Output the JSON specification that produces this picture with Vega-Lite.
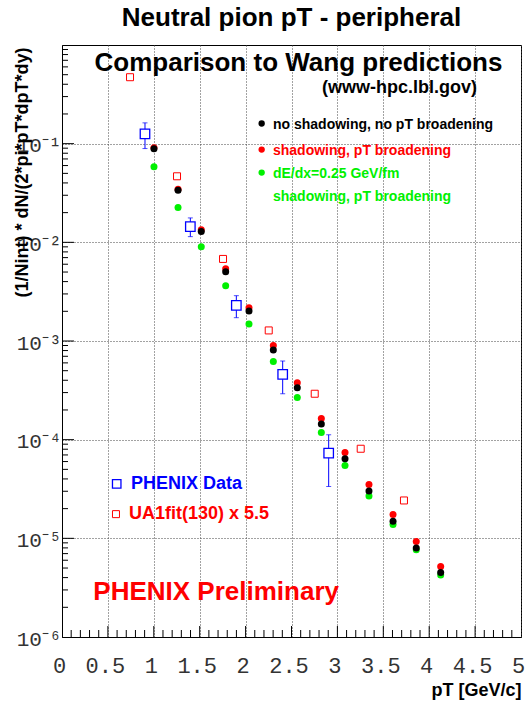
{
  "$schema": "https://vega.github.io/schema/vega-lite/v6.json",
  "width": 459,
  "height": 592,
  "autosize": {"type": "none"},
  "padding": {"left": 62, "top": 45, "right": 5, "bottom": 65},
  "background": "white",
  "config": {"view": {"stroke": "black", "strokeWidth": 1}, "font": "Liberation Sans"},
  "title": {"text": "Neutral pion pT - peripheral", "font": "Liberation Sans", "fontSize": 26, "fontWeight": "bold", "color": "black", "anchor": "middle", "frame": "group", "offset": -7, "baseline": "alphabetic"},
  "datasets": {
    "model": [
      {"pT": 1.002, "y": 0.0907, "model": "shadow"},
      {"pT": 1.264, "y": 0.0346, "model": "shadow"},
      {"pT": 1.517, "y": 0.01345, "model": "shadow"},
      {"pT": 1.783, "y": 0.00541, "model": "shadow"},
      {"pT": 2.037, "y": 0.002176, "model": "shadow"},
      {"pT": 2.302, "y": 0.000902, "model": "shadow"},
      {"pT": 2.563, "y": 0.000378, "model": "shadow"},
      {"pT": 2.825, "y": 0.000164, "model": "shadow"},
      {"pT": 3.083, "y": 0.0000742, "model": "shadow"},
      {"pT": 3.344, "y": 0.0000351, "model": "shadow"},
      {"pT": 3.606, "y": 0.00001743, "model": "shadow"},
      {"pT": 3.859, "y": 0.00000928, "model": "shadow"},
      {"pT": 4.125, "y": 0.00000518, "model": "shadow"},
      {"pT": 1.002, "y": 0.0582, "model": "dedx"},
      {"pT": 1.264, "y": 0.02248, "model": "dedx"},
      {"pT": 1.517, "y": 0.00904, "model": "dedx"},
      {"pT": 1.783, "y": 0.00364, "model": "dedx"},
      {"pT": 2.037, "y": 0.001487, "model": "dedx"},
      {"pT": 2.302, "y": 0.000621, "model": "dedx"},
      {"pT": 2.563, "y": 0.000268, "model": "dedx"},
      {"pT": 2.825, "y": 0.000118, "model": "dedx"},
      {"pT": 3.083, "y": 0.0000547, "model": "dedx"},
      {"pT": 3.344, "y": 0.0000268, "model": "dedx"},
      {"pT": 3.606, "y": 0.0000138, "model": "dedx"},
      {"pT": 3.859, "y": 0.00000764, "model": "dedx"},
      {"pT": 4.125, "y": 0.00000426, "model": "dedx"},
      {"pT": 1.002, "y": 0.0886, "model": "none"},
      {"pT": 1.264, "y": 0.0337, "model": "none"},
      {"pT": 1.517, "y": 0.01284, "model": "none"},
      {"pT": 1.783, "y": 0.00504, "model": "none"},
      {"pT": 2.037, "y": 0.002015, "model": "none"},
      {"pT": 2.302, "y": 0.00081, "model": "none"},
      {"pT": 2.563, "y": 0.000336, "model": "none"},
      {"pT": 2.825, "y": 0.000144, "model": "none"},
      {"pT": 3.083, "y": 0.000064, "model": "none"},
      {"pT": 3.344, "y": 0.0000301, "model": "none"},
      {"pT": 3.606, "y": 0.00001494, "model": "none"},
      {"pT": 3.859, "y": 0.00000796, "model": "none"},
      {"pT": 4.125, "y": 0.0000045, "model": "none"}
    ],
    "phenix": [
      {"pT": 0.904, "y": 0.1257, "lo": 0.0892, "hi": 0.1625},
      {"pT": 1.398, "y": 0.01443, "lo": 0.01142, "hi": 0.01768},
      {"pT": 1.899, "y": 0.002296, "lo": 0.001723, "hi": 0.00288},
      {"pT": 2.404, "y": 0.000458, "lo": 0.000292, "hi": 0.000627},
      {"pT": 2.905, "y": 0.0000731, "lo": 0.0000335, "hi": 0.0001121}
    ],
    "ua1": [
      {"pT": 0.741, "y": 0.4715},
      {"pT": 1.253, "y": 0.0467},
      {"pT": 1.754, "y": 0.00679},
      {"pT": 2.252, "y": 0.00128},
      {"pT": 2.753, "y": 0.000292},
      {"pT": 3.254, "y": 0.0000809},
      {"pT": 3.725, "y": 0.0000242}
    ],
    "xminor": [
      {"pT": 0.1}, {"pT": 0.2}, {"pT": 0.3}, {"pT": 0.4}, {"pT": 0.6}, {"pT": 0.7}, {"pT": 0.8}, {"pT": 0.9},
      {"pT": 1.1}, {"pT": 1.2}, {"pT": 1.3}, {"pT": 1.4}, {"pT": 1.6}, {"pT": 1.7}, {"pT": 1.8}, {"pT": 1.9},
      {"pT": 2.1}, {"pT": 2.2}, {"pT": 2.3}, {"pT": 2.4}, {"pT": 2.6}, {"pT": 2.7}, {"pT": 2.8}, {"pT": 2.9},
      {"pT": 3.1}, {"pT": 3.2}, {"pT": 3.3}, {"pT": 3.4}, {"pT": 3.6}, {"pT": 3.7}, {"pT": 3.8}, {"pT": 3.9},
      {"pT": 4.1}, {"pT": 4.2}, {"pT": 4.3}, {"pT": 4.4}, {"pT": 4.6}, {"pT": 4.7}, {"pT": 4.8}, {"pT": 4.9}
    ],
    "xmajor": [
      {"pT": 0.5}, {"pT": 1}, {"pT": 1.5}, {"pT": 2}, {"pT": 2.5}, {"pT": 3}, {"pT": 3.5}, {"pT": 4}, {"pT": 4.5}
    ],
    "yminor": [
      {"y": 0.000002}, {"y": 0.000003}, {"y": 0.000004}, {"y": 0.000005}, {"y": 0.000006}, {"y": 0.000007}, {"y": 0.000008}, {"y": 0.000009},
      {"y": 0.00002}, {"y": 0.00003}, {"y": 0.00004}, {"y": 0.00005}, {"y": 0.00006}, {"y": 0.00007}, {"y": 0.00008}, {"y": 0.00009},
      {"y": 0.0002}, {"y": 0.0003}, {"y": 0.0004}, {"y": 0.0005}, {"y": 0.0006}, {"y": 0.0007}, {"y": 0.0008}, {"y": 0.0009},
      {"y": 0.002}, {"y": 0.003}, {"y": 0.004}, {"y": 0.005}, {"y": 0.006}, {"y": 0.007}, {"y": 0.008}, {"y": 0.009},
      {"y": 0.02}, {"y": 0.03}, {"y": 0.04}, {"y": 0.05}, {"y": 0.06}, {"y": 0.07}, {"y": 0.08}, {"y": 0.09},
      {"y": 0.2}, {"y": 0.3}, {"y": 0.4}, {"y": 0.5}, {"y": 0.6}, {"y": 0.7}, {"y": 0.8}, {"y": 0.9}
    ],
    "ymajor": [
      {"y": 0.00001}, {"y": 0.0001}, {"y": 0.001}, {"y": 0.01}, {"y": 0.1}
    ]
  },
  "layer": [
    {
      "data": {"name": "phenix"},
      "mark": {"type": "rule", "color": "#0000ff", "strokeWidth": 1},
      "encoding": {
        "x": {"field": "pT", "type": "quantitative", "scale": {"domain": [0, 5], "nice": false, "zero": false},
          "axis": {
            "title": "pT [GeV/c]",
            "values": [0, 0.5, 1, 1.5, 2, 2.5, 3, 3.5, 4, 4.5, 5],
            "format": "~g",
            "labelFlush": false, "labelOverlap": false, "labelBound": false,
            "labelFont": "Liberation Mono", "labelFontSize": 22, "labelColor": "#333333", "labelPadding": 28, "labelBaseline": "middle", "labelOffset": -3,
            "ticks": false, "tickSize": 0,
            "grid": true, "gridColor": "#444444", "gridDash": [1, 2], "gridWidth": 1,
            "domainColor": "black", "domainWidth": 1,
            "titleFont": "Liberation Sans", "titleFontWeight": "bold", "titleFontSize": 18, "titleColor": "black",
            "titleX": 459, "titleY": 58, "titleAlign": "right", "titleBaseline": "alphabetic"
          }},
        "y": {"field": "lo", "type": "quantitative", "scale": {"type": "log", "domain": [0.000001, 1], "nice": false},
          "axis": {
            "title": "(1/Nint) * dN/(2*pi*pT*dpT*dy)",
            "values": [0.000001, 0.00001, 0.0001, 0.001, 0.01, 0.1],
            "labelExpr": "'10' + ['⁰','⁻¹','⁻²','⁻³','⁻⁴','⁻⁵','⁻⁶'][-round(log(datum.value)/LN10)]",
            "labelFlush": false, "labelOverlap": false, "labelBound": false,
            "labelFont": "Liberation Mono", "labelFontSize": 21, "labelColor": "#333333", "labelPadding": 1, "labelAlign": "right", "labelBaseline": "middle", "labelOffset": 2,
            "ticks": false, "tickSize": 0,
            "grid": true, "gridColor": "#444444", "gridDash": [1, 2], "gridWidth": 1,
            "domainColor": "black", "domainWidth": 1,
            "titleFont": "Liberation Sans", "titleFontWeight": "bold", "titleFontSize": 18, "titleColor": "black",
            "titleX": -35, "titleY": 2, "titleAngle": -90, "titleAlign": "right", "titleBaseline": "alphabetic"
          }},
        "y2": {"field": "hi"}
      }
    },
    {
      "data": {"name": "xminor"},
      "mark": {"type": "rule", "color": "black", "strokeWidth": 1, "y2Offset": -7},
      "encoding": {
        "x": {"field": "pT", "type": "quantitative", "scale": {"domain": [0, 5], "nice": false, "zero": false}},
        "y": {"datum": 0.000001, "type": "quantitative", "scale": {"type": "log", "domain": [0.000001, 1], "nice": false}},
        "y2": {"datum": 0.000001}
      }
    },
    {
      "data": {"name": "xmajor"},
      "mark": {"type": "rule", "color": "black", "strokeWidth": 1, "y2Offset": -11},
      "encoding": {
        "x": {"field": "pT", "type": "quantitative", "scale": {"domain": [0, 5], "nice": false, "zero": false}},
        "y": {"datum": 0.000001, "type": "quantitative", "scale": {"type": "log", "domain": [0.000001, 1], "nice": false}},
        "y2": {"datum": 0.000001}
      }
    },
    {
      "data": {"name": "yminor"},
      "mark": {"type": "rule", "color": "black", "strokeWidth": 1, "x2Offset": 6},
      "encoding": {
        "y": {"field": "y", "type": "quantitative", "scale": {"type": "log", "domain": [0.000001, 1], "nice": false}},
        "x": {"datum": 0, "type": "quantitative", "scale": {"domain": [0, 5], "nice": false, "zero": false}},
        "x2": {"datum": 0}
      }
    },
    {
      "data": {"name": "ymajor"},
      "mark": {"type": "rule", "color": "black", "strokeWidth": 1, "x2Offset": 12},
      "encoding": {
        "y": {"field": "y", "type": "quantitative", "scale": {"type": "log", "domain": [0.000001, 1], "nice": false}},
        "x": {"datum": 0, "type": "quantitative", "scale": {"domain": [0, 5], "nice": false, "zero": false}},
        "x2": {"datum": 0}
      }
    },
    {
      "data": {"name": "phenix"},
      "mark": {"type": "tick", "orient": "horizontal", "color": "#0000ff", "size": 5, "thickness": 1},
      "encoding": {
        "x": {"field": "pT", "type": "quantitative", "scale": {"domain": [0, 5], "nice": false, "zero": false}},
        "y": {"field": "lo", "type": "quantitative", "scale": {"type": "log", "domain": [0.000001, 1], "nice": false}}
      }
    },
    {
      "data": {"name": "phenix"},
      "mark": {"type": "tick", "orient": "horizontal", "color": "#0000ff", "size": 5, "thickness": 1},
      "encoding": {
        "x": {"field": "pT", "type": "quantitative", "scale": {"domain": [0, 5], "nice": false, "zero": false}},
        "y": {"field": "hi", "type": "quantitative", "scale": {"type": "log", "domain": [0.000001, 1], "nice": false}}
      }
    },
    {
      "data": {"name": "phenix"},
      "mark": {"type": "point", "shape": "square", "filled": true, "fill": "white", "stroke": "#0000ff", "strokeWidth": 1.3, "size": 90, "opacity": 1},
      "encoding": {
        "x": {"field": "pT", "type": "quantitative", "scale": {"domain": [0, 5], "nice": false, "zero": false}},
        "y": {"field": "y", "type": "quantitative", "scale": {"type": "log", "domain": [0.000001, 1], "nice": false}}
      }
    },
    {
      "data": {"name": "ua1"},
      "mark": {"type": "point", "shape": "square", "filled": false, "stroke": "#ff0000", "strokeWidth": 1, "size": 49, "opacity": 1},
      "encoding": {
        "x": {"field": "pT", "type": "quantitative", "scale": {"domain": [0, 5], "nice": false, "zero": false}},
        "y": {"field": "y", "type": "quantitative", "scale": {"type": "log", "domain": [0.000001, 1], "nice": false}}
      }
    },
    {
      "data": {"name": "model"},
      "mark": {"type": "point", "shape": "circle", "filled": true, "size": 49, "opacity": 1},
      "encoding": {
        "x": {"field": "pT", "type": "quantitative", "scale": {"domain": [0, 5], "nice": false, "zero": false}},
        "y": {"field": "y", "type": "quantitative", "scale": {"type": "log", "domain": [0.000001, 1], "nice": false}},
        "color": {"field": "model", "type": "nominal", "scale": {"domain": ["none", "shadow", "dedx"], "range": ["#000000", "#ff0000", "#00f000"]}, "legend": null}
      }
    },
    {
      "data": {"values": [
        {"pT": 2.175, "y": 0.16, "model": "none"},
        {"pT": 2.175, "y": 0.0871, "model": "shadow"},
        {"pT": 2.175, "y": 0.0509, "model": "dedx"}
      ]},
      "mark": {"type": "point", "shape": "circle", "filled": true, "size": 40, "opacity": 1},
      "encoding": {
        "x": {"field": "pT", "type": "quantitative", "scale": {"domain": [0, 5], "nice": false, "zero": false}},
        "y": {"field": "y", "type": "quantitative", "scale": {"type": "log", "domain": [0.000001, 1], "nice": false}},
        "color": {"field": "model", "type": "nominal", "scale": {"domain": ["none", "shadow", "dedx"], "range": ["#000000", "#ff0000", "#00f000"]}, "legend": null}
      }
    },
    {
      "data": {"values": [
        {"pT": 2.298, "y": 0.1562, "model": "none", "label": "no shadowing, no pT broadening"},
        {"pT": 2.298, "y": 0.0851, "model": "shadow", "label": "shadowing, pT broadening"},
        {"pT": 2.298, "y": 0.0497, "model": "dedx", "label": "dE/dx=0.25 GeV/fm"},
        {"pT": 2.298, "y": 0.02907, "model": "dedx", "label": "shadowing, pT broadening"}
      ]},
      "mark": {"type": "text", "font": "Liberation Sans", "fontWeight": "bold", "fontSize": 14, "align": "left", "baseline": "middle"},
      "encoding": {
        "x": {"field": "pT", "type": "quantitative", "scale": {"domain": [0, 5], "nice": false, "zero": false}},
        "y": {"field": "y", "type": "quantitative", "scale": {"type": "log", "domain": [0.000001, 1], "nice": false}},
        "text": {"field": "label"},
        "color": {"field": "model", "type": "nominal", "scale": {"domain": ["none", "shadow", "dedx"], "range": ["#000000", "#ff0000", "#00f000"]}, "legend": null}
      }
    },
    {
      "data": {"values": [{"pT": 2.576, "y": 0.6646, "label": "Comparison to Wang predictions"}]},
      "mark": {"type": "text", "font": "Liberation Sans", "fontWeight": "bold", "fontSize": 26, "align": "center", "baseline": "middle", "color": "black"},
      "encoding": {
        "x": {"field": "pT", "type": "quantitative", "scale": {"domain": [0, 5], "nice": false, "zero": false}},
        "y": {"field": "y", "type": "quantitative", "scale": {"type": "log", "domain": [0.000001, 1], "nice": false}},
        "text": {"field": "label"}
      }
    },
    {
      "data": {"values": [{"pT": 3.676, "y": 0.3707, "label": "(www-hpc.lbl.gov)"}]},
      "mark": {"type": "text", "font": "Liberation Sans", "fontWeight": "bold", "fontSize": 18, "align": "center", "baseline": "middle", "color": "black"},
      "encoding": {
        "x": {"field": "pT", "type": "quantitative", "scale": {"domain": [0, 5], "nice": false, "zero": false}},
        "y": {"field": "y", "type": "quantitative", "scale": {"type": "log", "domain": [0.000001, 1], "nice": false}},
        "text": {"field": "label"}
      }
    },
    {
      "data": {"values": [{"pT": 0.596, "y": 0.0000357}]},
      "mark": {"type": "point", "shape": "square", "filled": false, "stroke": "#0000ff", "strokeWidth": 1.3, "size": 72, "opacity": 1},
      "encoding": {
        "x": {"field": "pT", "type": "quantitative", "scale": {"domain": [0, 5], "nice": false, "zero": false}},
        "y": {"field": "y", "type": "quantitative", "scale": {"type": "log", "domain": [0.000001, 1], "nice": false}}
      }
    },
    {
      "data": {"values": [{"pT": 0.588, "y": 0.00001759}]},
      "mark": {"type": "point", "shape": "square", "filled": false, "stroke": "#ff0000", "strokeWidth": 1, "size": 49, "opacity": 1},
      "encoding": {
        "x": {"field": "pT", "type": "quantitative", "scale": {"domain": [0, 5], "nice": false, "zero": false}},
        "y": {"field": "y", "type": "quantitative", "scale": {"type": "log", "domain": [0.000001, 1], "nice": false}}
      }
    },
    {
      "data": {"values": [{"pT": 0.752, "y": 0.0000357, "label": "PHENIX Data"}]},
      "mark": {"type": "text", "font": "Liberation Sans", "fontWeight": "bold", "fontSize": 18, "align": "left", "baseline": "middle", "color": "#0000ff"},
      "encoding": {
        "x": {"field": "pT", "type": "quantitative", "scale": {"domain": [0, 5], "nice": false, "zero": false}},
        "y": {"field": "y", "type": "quantitative", "scale": {"type": "log", "domain": [0.000001, 1], "nice": false}},
        "text": {"field": "label"}
      }
    },
    {
      "data": {"values": [{"pT": 0.73, "y": 0.00001759, "label": "UA1fit(130) x 5.5"}]},
      "mark": {"type": "text", "font": "Liberation Sans", "fontWeight": "bold", "fontSize": 18, "align": "left", "baseline": "middle", "color": "#ff0000"},
      "encoding": {
        "x": {"field": "pT", "type": "quantitative", "scale": {"domain": [0, 5], "nice": false, "zero": false}},
        "y": {"field": "y", "type": "quantitative", "scale": {"type": "log", "domain": [0.000001, 1], "nice": false}},
        "text": {"field": "label"}
      }
    },
    {
      "data": {"values": [{"pT": 0.341, "y": 0.000002886, "label": "PHENIX Preliminary"}]},
      "mark": {"type": "text", "font": "Liberation Sans", "fontWeight": "bold", "fontSize": 26, "align": "left", "baseline": "middle", "color": "#ff0000"},
      "encoding": {
        "x": {"field": "pT", "type": "quantitative", "scale": {"domain": [0, 5], "nice": false, "zero": false}},
        "y": {"field": "y", "type": "quantitative", "scale": {"type": "log", "domain": [0.000001, 1], "nice": false}},
        "text": {"field": "label"}
      }
    }
  ]
}
